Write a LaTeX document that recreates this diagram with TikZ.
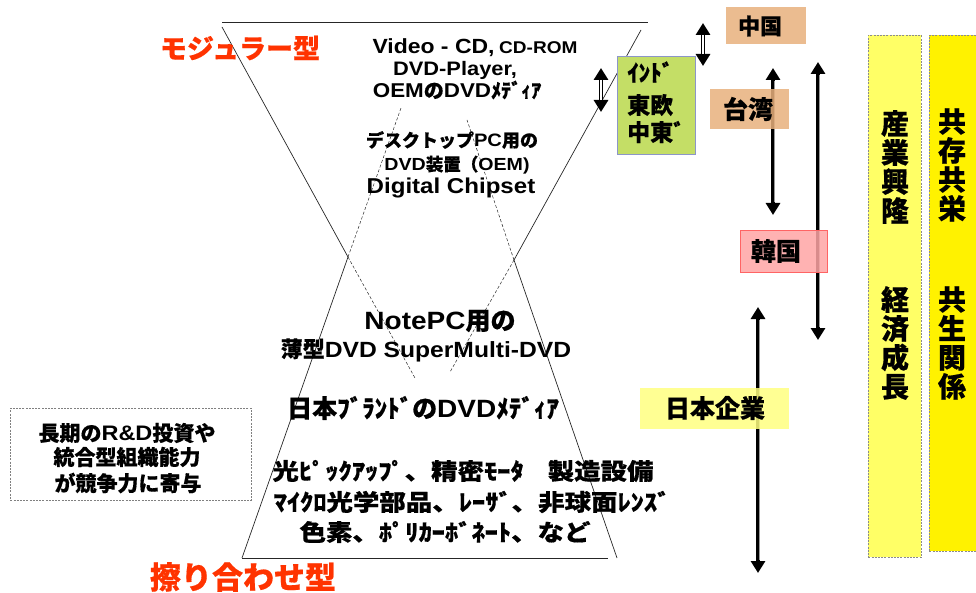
\documentclass[tikz,border=0pt]{standalone}
\usepackage{fontspec}
\setmainfont{Noto Sans CJK JP}[BoldFeatures={FakeBold=0.5}]
\newfontfamily\jpw{Noto Sans CJK JP}[FakeStretch=1.15, BoldFeatures={FakeBold=0.5}]
\newfontfamily\latf{Liberation Sans}[FakeStretch=1.12]
\newcommand\La[1]{{\latf #1}}
\newcommand\fsz[1]{\fontsize{#1pt}{#1pt}\selectfont}
\usetikzlibrary{arrows.meta}
\definecolor{redlab}{RGB}{255,51,0}
\definecolor{tanbox}{RGB}{232,176,124}
\definecolor{greenbox}{RGB}{196,222,102}
\definecolor{greenedge}{RGB}{140,150,200}
\definecolor{pinkbox}{RGB}{255,165,165}
\definecolor{pinkedge}{RGB}{255,100,100}
\definecolor{paleyel}{RGB}{255,255,128}
\definecolor{colyel}{RGB}{255,255,102}
\tikzset{
  t/.style={font=\bfseries\fsz{#1}, inner sep=0pt},
  tw/.style={font=\jpw\bfseries\fsz{#1}, inner sep=0pt},
  vt/.style={font=\bfseries\fontsize{#1pt}{29pt}\selectfont, inner sep=0pt, align=center},
  hg/.style={draw=black!85, line width=0.7pt},
  hgd/.style={draw=black!85, line width=0.5pt, dash pattern=on 3pt off 2pt},
  dblarr/.style={line width=4.2pt, {Triangle[width=14pt,length=12pt]}-{Triangle[width=14pt,length=12pt]}},
  dblin/.style={white, line width=1.6pt, shorten <=12pt, shorten >=12pt},
  solarr/.style={line width=3.2pt, {Triangle[width=14pt,length=12pt]}-{Triangle[width=14pt,length=12pt]}},
  solin/.style={black!40, line width=1.1pt, shorten <=13pt, shorten >=13pt},
  box/.style={inner sep=0pt, fill opacity=0.85, anchor=north west},
  colbox/.style={inner sep=0pt, anchor=north west, draw=black!45, dash pattern=on 2pt off 1.2pt, line width=0.6pt}
}
\begin{document}
\begin{tikzpicture}[x=1pt,y=-1pt]
\useasboundingbox (0,0) rectangle (976,593);

% ---- hourglass ----
\coordinate (TL) at (222,22);
\coordinate (TR) at (648,22);
\coordinate (ULs) at (222,27);
\coordinate (URs) at (641,30);
\coordinate (Xl) at (348,257);
\coordinate (Xr) at (514,260);
\coordinate (ULe) at (415,378);
\coordinate (URe) at (450,372);
\coordinate (BL) at (242,558);
\coordinate (BR) at (617,558);
\coordinate (BRl) at (608,558);
\coordinate (LLe) at (401,108);
\coordinate (LRe) at (467,120);
\draw[hg] (TL) -- (TR);
\draw[hg] (BL) -- (BRl);
\draw[hg] (ULs) -- (Xl);
\draw[hgd] (Xl) -- (ULe);
\draw[hg] (URs) -- (Xr);
\draw[hgd] (Xr) -- (URe);
\draw[hg] (BL) -- (Xl);
\draw[hgd] (Xl) -- (LLe);
\draw[hg] (BR) -- (Xr);
\draw[hgd] (Xr) -- (LRe);

% ---- labels ----
\node[t=27, text=redlab] (modular) at (240,48) {モジュラー型};
\node[t=31, text=redlab] (suriawase) at (243,577) {擦り合わせ型};

\node[t=20.5] (v1) at (475,48) {\La{Video - CD,} {\fsz{17}\La{CD-ROM}}};
\node[t=19.5] (v2) at (455,70) {\La{DVD-Player,}};
\node[t=20] (v3) at (457,90) {\La{OEM}の\La{DVD}ﾒﾃﾞｨｱ};
\node[t=18] (v4) at (452,140) {デスクトップ\La{PC}用の};
\node[t=17.5] (v5) at (457,165) {\La{DVD}装置（\La{OEM)}};
\node[t=21.5] (v6) at (451,188) {\La{Digital Chipset}};
\node[t=25] (v7) at (440,321) {\La{NotePC}用の};
\node[t=22] (v8) at (426,350) {薄型\La{DVD SuperMulti-DVD}};
\node[t=25] (v9) at (423,408) {日本ﾌﾞﾗﾝﾄﾞの\La{DVD}ﾒﾃﾞｨｱ};
\node[tw=23] (b1) at (463,471) {光ﾋﾟｯｸｱｯﾌﾟ、精密ﾓｰﾀ\hspace{24pt}製造設備};
\node[tw=23] (b2) at (472,502) {ﾏｲｸﾛ光学部品、ﾚｰｻﾞ、非球面ﾚﾝｽﾞ};
\node[tw=23] (b3) at (445,532) {色素、ﾎﾟﾘｶｰﾎﾞﾈｰﾄ、など};

% ---- left dashed box ----
\node[inner sep=0pt, anchor=north west, minimum width=241pt, minimum height=92pt, draw=black!50, dash pattern=on 2pt off 1.2pt, line width=0.6pt] (rd) at (10,408) {};
\node[t=21] (rd1) at (127,433) {長期の\La{R\&D}投資や};
\node[t=21] (rd2) at (127,457) {統合型組織能力};
\node[t=21] (rd3) at (128,483) {が競争力に寄与};

% ---- arrows ----
\coordinate (a1t) at (703,23); \coordinate (a1b) at (703,66);
\coordinate (a2t) at (601,68); \coordinate (a2b) at (601,112);
\coordinate (a3t) at (773,68); \coordinate (a3b) at (773,215);
\coordinate (a4t) at (818,62); \coordinate (a4b) at (818,340);
\coordinate (a5t) at (758,307); \coordinate (a5b) at (758,573);
\draw[dblarr] (a1t) -- (a1b);
\draw[dblin] (a1t) -- (a1b);
\draw[dblarr] (a2t) -- (a2b);
\draw[dblin] (a2t) -- (a2b);
\foreach \p in {3,4,5}{
  \draw[solarr] (a\p t) -- (a\p b);
  \draw[solin] ([xshift=1.1pt]a\p t) -- ([xshift=1.1pt]a\p b);
}

% ---- region boxes ----
\node[box, fill=tanbox, minimum width=80pt, minimum height=37pt] (cn) at (726,7) {};
\node[t=22] (cnt) at (760,26) {中国};
\node[box, fill=tanbox, minimum width=79pt, minimum height=40pt] (tw) at (710,89) {};
\node[t=25] (twt) at (748,109) {台湾};
\node[box, fill=greenbox, draw=greenedge, line width=0.9pt, fill opacity=1, minimum width=78pt, minimum height=98pt] (ind) at (617,56) {};
\node[t=23, anchor=west] (ind1) at (627,72) {ｲﾝﾄﾞ};
\node[t=23, anchor=west] (ind2) at (627,105) {東欧};
\node[t=23, anchor=west] (ind3) at (627,132) {中東ﾞ};
\node[box, fill=pinkbox, draw=pinkedge, line width=0.8pt, minimum width=87pt, minimum height=42pt] (kr) at (740,230) {};
\node[t=25] (krt) at (776,251) {韓国};
\node[box, fill=paleyel, minimum width=149pt, minimum height=41pt] (jpn) at (640,388) {};
\node[t=25] (jpnt) at (715,408) {日本企業};

% ---- right columns ----
\node[colbox, fill=colyel, minimum width=53pt, minimum height=522pt] (c1) at (868,35) {};
\node[colbox, fill=yellow, minimum width=50pt, minimum height=516pt] (c2) at (929,35) {};
\node[vt=28] (c1a) at (895,167) {産\\業\\興\\隆};
\node[vt=28] (c1b) at (895,343) {経\\済\\成\\長};
\node[vt=28] (c2a) at (952,165) {共\\存\\共\\栄};
\node[vt=28] (c2b) at (952,343) {共\\生\\関\\係};
\end{tikzpicture}
\end{document}
